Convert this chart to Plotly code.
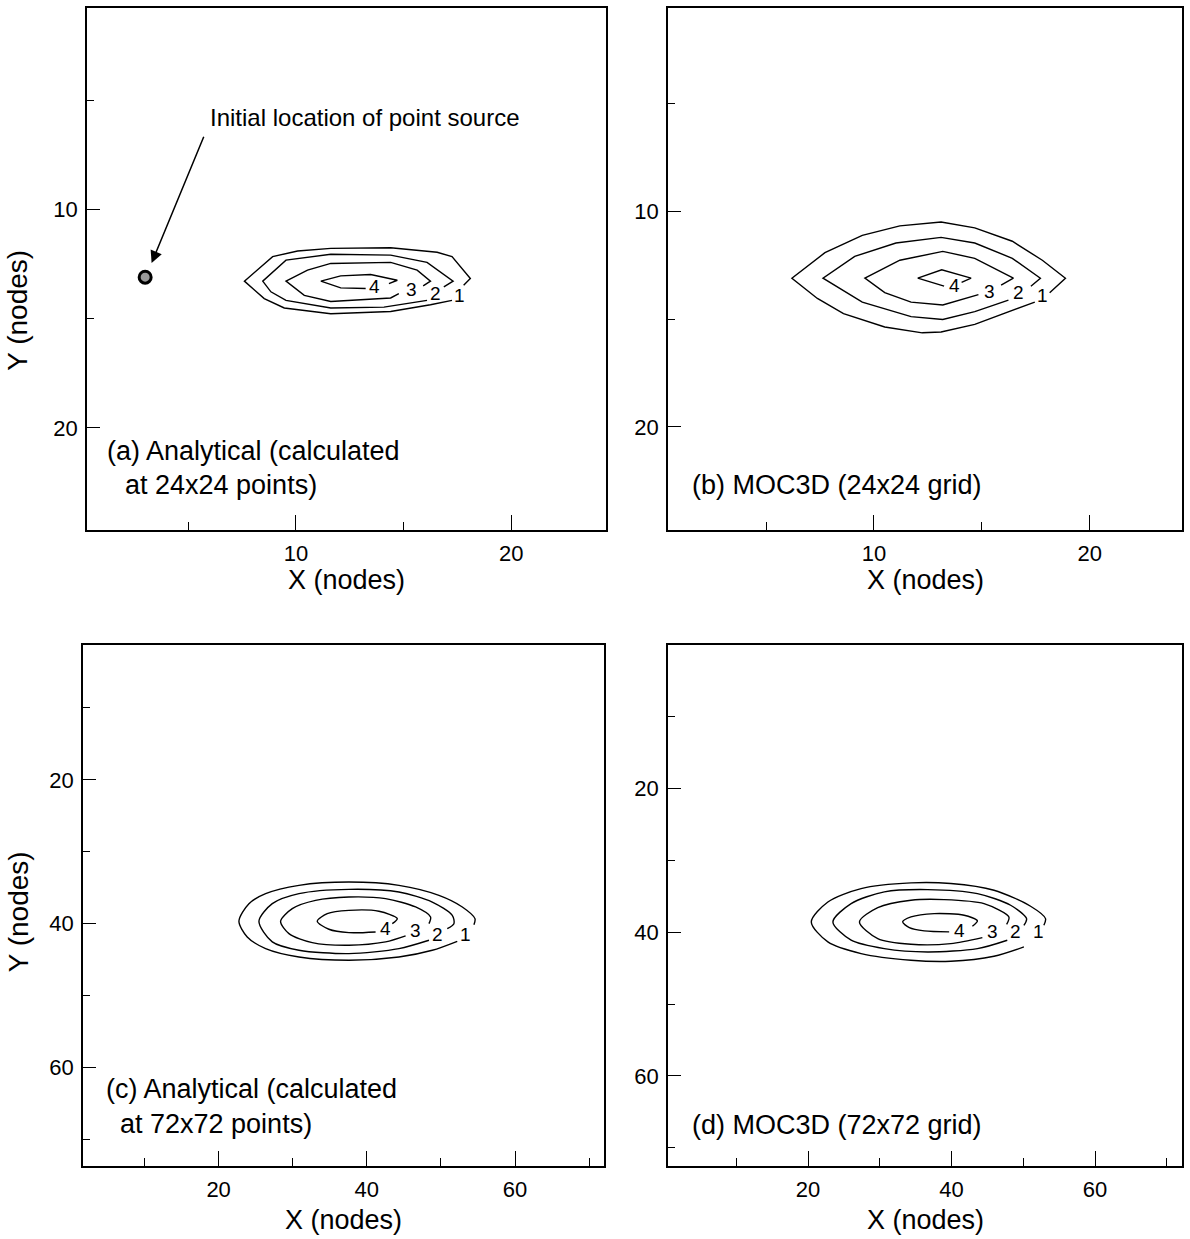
import plotly.graph_objects as go

FONT = "Liberation Sans, Arial, Helvetica, sans-serif"
LEVEL_NAMES = ["1", "2", "3", "4"]

# ---------------- Panel (a): Analytical, 24x24 points ----------------
A_X1 = [17.25, 16.25, 14.40, 11.62, 9.46, 8.53, 7.61, 8.53, 8.92, 10.08, 11.62, 14.40, 16.56, 17.25, 18.10, 17.79]
A_Y1 = [14.16, 14.36, 14.67, 14.77, 14.51, 14.08, 13.28, 12.52, 12.16, 11.90, 11.78, 11.75, 11.96, 12.16, 13.16, 13.47]
A_X2 = [16.09, 14.09, 11.62, 9.54, 8.84, 8.46, 9.54, 11.62, 14.40, 16.09, 17.30, 16.87]
A_Y2 = [14.16, 14.47, 14.51, 14.16, 13.77, 13.28, 12.32, 12.05, 12.09, 12.42, 13.28, 13.54]
A_X3 = [14.78, 14.40, 11.62, 10.39, 9.54, 10.54, 11.62, 14.40, 15.63, 16.25, 15.91]
A_Y3 = [13.85, 14.05, 14.21, 13.93, 13.28, 12.78, 12.47, 12.42, 12.78, 13.28, 13.50]
A_X4 = [13.24, 12.08, 11.16, 12.08, 13.47, 14.71, 14.32]
A_Y4 = [13.62, 13.59, 13.28, 13.04, 12.98, 13.24, 13.39]
A_LABEL_X = [17.62, 16.50, 15.37, 13.66]
A_LABEL_Y = [13.92, 13.85, 13.65, 13.54]
SOURCE_X = [3.0]
SOURCE_Y = [13.1]

# ---------------- Panel (b): MOC3D, 24x24 grid ----------------
B_X1 = [17.45, 16.06, 14.67, 13.11, 12.24, 10.50, 8.59, 7.38, 6.20, 7.73, 9.46, 11.20, 13.11, 14.67, 16.41, 17.80, 18.87, 18.14]
B_Y1 = [14.22, 14.75, 15.25, 15.60, 15.64, 15.37, 14.75, 14.05, 13.11, 11.93, 11.13, 10.69, 10.51, 10.78, 11.40, 12.28, 13.11, 13.78]
B_X2 = [16.23, 14.67, 13.19, 11.72, 9.46, 8.42, 7.64, 9.11, 11.02, 13.11, 14.67, 16.41, 17.71, 17.27]
B_Y2 = [14.13, 14.66, 15.02, 14.89, 14.22, 13.60, 13.11, 12.10, 11.48, 11.22, 11.48, 12.19, 13.11, 13.48]
B_X3 = [14.84, 13.19, 11.72, 10.50, 9.58, 11.20, 13.19, 14.67, 16.46, 15.89]
B_Y3 = [13.87, 14.35, 14.22, 13.78, 13.11, 12.28, 11.87, 12.19, 13.11, 13.43]
B_X4 = [13.25, 12.03, 13.14, 14.50, 14.06]
B_Y4 = [13.48, 13.11, 12.72, 13.11, 13.30]
B_LABEL_X = [17.83, 16.70, 15.36, 13.75]
B_LABEL_Y = [13.90, 13.78, 13.71, 13.43]

# ---------------- Panel (c): Analytical, 72x72 points ----------------
C_X1 = [52.20, 48.83, 44.33, 37.58, 30.84, 26.34, 23.86, 22.74, 24.09, 26.34, 30.84, 37.58, 44.33, 49.73, 52.88, 54.59, 54.45]
C_Y1 = [42.45, 43.70, 44.63, 45.09, 44.63, 43.47, 41.85, 39.67, 37.22, 35.83, 34.67, 34.21, 34.67, 36.06, 37.68, 39.30, 40.14]
C_X2 = [48.38, 44.33, 37.58, 30.84, 27.24, 25.44, 27.24, 30.84, 37.58, 44.33, 48.83, 51.53, 51.75, 50.85]
C_Y2 = [42.31, 43.47, 44.17, 43.70, 42.54, 39.67, 37.22, 35.83, 35.23, 35.60, 36.99, 38.84, 40.00, 40.69]
C_X3 = [45.23, 42.53, 37.58, 32.63, 29.49, 28.36, 29.94, 33.08, 37.58, 42.53, 46.58, 48.60, 48.38]
C_Y3 = [41.71, 42.54, 43.00, 42.64, 41.39, 39.67, 37.91, 36.76, 36.29, 36.52, 37.68, 39.07, 40.00]
C_X4 = [41.18, 37.58, 34.88, 33.31, 34.66, 37.58, 41.63, 44.11, 43.43]
C_Y4 = [41.15, 41.25, 40.78, 39.67, 38.61, 38.15, 38.28, 39.30, 40.00]
C_LABEL_X = [53.33, 49.50, 46.58, 42.53]
C_LABEL_Y = [41.52, 41.52, 40.92, 40.69]

# ---------------- Panel (d): MOC3D, 72x72 grid ----------------
D_X1 = [50.09, 45.92, 39.90, 34.35, 27.40, 22.77, 20.46, 22.77, 27.40, 34.35, 39.90, 45.92, 51.02, 53.10, 52.87]
D_Y1 = [42.04, 43.34, 44.04, 43.90, 42.97, 41.35, 38.56, 35.78, 33.92, 33.13, 33.22, 34.15, 36.38, 38.10, 39.03]
D_X2 = [47.77, 43.61, 36.66, 30.64, 26.01, 23.47, 26.01, 30.64, 36.66, 43.61, 48.24, 50.46, 50.09]
D_Y2 = [41.11, 42.28, 42.74, 42.28, 41.11, 38.56, 36.01, 34.38, 34.06, 34.62, 36.24, 38.10, 39.03]
D_X3 = [44.30, 39.90, 34.35, 29.72, 27.17, 29.72, 34.35, 38.98, 44.53, 48.00, 47.68]
D_Y3 = [40.74, 41.58, 41.67, 40.88, 38.56, 36.57, 35.54, 35.45, 36.01, 37.87, 38.89]
D_X4 = [39.67, 36.20, 34.12, 33.19, 34.35, 37.59, 41.76, 43.61, 42.91]
D_Y4 = [39.95, 39.81, 39.35, 38.56, 37.87, 37.40, 37.63, 38.42, 39.16]
D_LABEL_X = [52.17, 48.93, 45.69, 41.06]
D_LABEL_Y = [39.95, 39.95, 39.95, 39.72]

# Axis tick values
TICKS_24 = [10, 20]
TICKS_72 = [20, 40, 60]

PANEL_TEXT_A = ["(a) Analytical (calculated", "at 24x24 points)"]
PANEL_TEXT_B = ["(b) MOC3D (24x24 grid)"]
PANEL_TEXT_C = ["(c) Analytical (calculated", "at 72x72 points)"]
PANEL_TEXT_D = ["(d) MOC3D (72x72 grid)"]
SOURCE_TEXT = "Initial location of point source"

W, H = 1190, 1239
def px_x(a, b):
    return [a / W, b / W]
def px_y(top, bottom):
    return [1 - bottom / H, 1 - top / H]

fig = go.Figure()

panels = [
    ("x", "y", [(A_X1, A_Y1), (A_X2, A_Y2), (A_X3, A_Y3), (A_X4, A_Y4)], A_LABEL_X, A_LABEL_Y, "linear"),
    ("x2", "y2", [(B_X1, B_Y1), (B_X2, B_Y2), (B_X3, B_Y3), (B_X4, B_Y4)], B_LABEL_X, B_LABEL_Y, "linear"),
    ("x3", "y3", [(C_X1, C_Y1), (C_X2, C_Y2), (C_X3, C_Y3), (C_X4, C_Y4)], C_LABEL_X, C_LABEL_Y, "spline"),
    ("x4", "y4", [(D_X1, D_Y1), (D_X2, D_Y2), (D_X3, D_Y3), (D_X4, D_Y4)], D_LABEL_X, D_LABEL_Y, "spline"),
]

annotations = []
for xa, ya, rings, lx, ly, shape in panels:
    for xs, ys in rings:
        fig.add_trace(go.Scatter(x=xs, y=ys, xaxis=xa, yaxis=ya, mode="lines",
                                 line=dict(color="black", width=1.4, shape=shape, smoothing=0.8),
                                 hoverinfo="skip", showlegend=False))
    for i, name in enumerate(LEVEL_NAMES):
        annotations.append(dict(x=lx[i], y=ly[i], xref=xa, yref=ya, text=name, showarrow=False,
                                font=dict(family=FONT, size=19, color="black")))

# point source marker
fig.add_trace(go.Scatter(x=SOURCE_X, y=SOURCE_Y, xaxis="x", yaxis="y", mode="markers",
                         marker=dict(symbol="circle", size=12, color="#9a9a9a",
                                     line=dict(color="black", width=3)),
                         hoverinfo="skip", showlegend=False))

# arrow + text for source
annotations.append(dict(x=3.3, y=12.45, ax=5.75, ay=6.6, xref="x", yref="y", axref="x", ayref="y",
                        text="", showarrow=True, arrowhead=2, arrowsize=1.6, arrowwidth=1.5,
                        arrowcolor="black"))
annotations.append(dict(x=5.93, y=5.8, xref="x", yref="y", text=SOURCE_TEXT, showarrow=False,
                        xanchor="left", yanchor="middle", font=dict(family=FONT, size=24, color="black")))

# panel descriptions
panel_notes = [
    dict(x=1.14, y=21.06, xref="x", yref="y", text=PANEL_TEXT_A[0]),
    dict(x=1.97, y=22.62, xref="x", yref="y", text=PANEL_TEXT_A[1]),
    dict(x=1.47, y=22.68, xref="x2", yref="y2", text=PANEL_TEXT_B[0]),
    dict(x=4.53, y=63.06, xref="x3", yref="y3", text=PANEL_TEXT_C[0]),
    dict(x=6.42, y=67.90, xref="x3", yref="y3", text=PANEL_TEXT_C[1]),
    dict(x=3.52, y=66.85, xref="x4", yref="y4", text=PANEL_TEXT_D[0]),
]
for a in panel_notes:
    a.update(showarrow=False, xanchor="left", yanchor="middle",
             font=dict(family=FONT, size=27, color="black"))
annotations += panel_notes

# axis titles
for xa, ya, shift in [("x", "y", -33), ("x2", "y2", -33), ("x3", "y3", -37), ("x4", "y4", -37)]:
    annotations.append(dict(x=0.5, y=0, xref=f"{xa} domain", yref=f"{ya} domain", text="X (nodes)",
                            showarrow=False, xanchor="center", yanchor="top", yshift=shift,
                            font=dict(family=FONT, size=27, color="black")))
annotations.append(dict(x=0, y=0.42, xref="x domain", yref="y domain", text="Y (nodes)", textangle=-90,
                        showarrow=False, xanchor="center", yanchor="middle", xshift=-69,
                        font=dict(family=FONT, size=28, color="black")))
annotations.append(dict(x=0, y=0.487, xref="x3 domain", yref="y3 domain", text="Y (nodes)", textangle=-90,
                        showarrow=False, xanchor="center", yanchor="middle", xshift=-65,
                        font=dict(family=FONT, size=28, color="black")))

def xaxis(domain, rng, ticks, minor_dt, anchor):
    return dict(domain=domain, range=rng, anchor=anchor, tickvals=ticks, ticks="inside", ticklen=15,
                tickwidth=1.3, tickcolor="black", showline=True, linecolor="black", linewidth=1.6,
                mirror=True, showgrid=False, zeroline=False, ticklabelstandoff=3,
                tickfont=dict(family=FONT, size=22, color="black"),
                minor=dict(ticks="inside", ticklen=8, tickwidth=1.2, tickcolor="black",
                           dtick=minor_dt, tick0=0, showgrid=False))

def yaxis(domain, rng, ticks, minor_dt, anchor):
    d = xaxis(domain, rng, ticks, minor_dt, anchor)
    d["ticklen"] = 13
    d["minor"]["ticklen"] = 7
    return d

fig.update_layout(
    width=W, height=H, margin=dict(l=0, r=0, t=0, b=0),
    paper_bgcolor="white", plot_bgcolor="white", showlegend=False,
    xaxis=xaxis(px_x(87, 606), [0.3, 24.4], TICKS_24, 5, "y"),
    yaxis=yaxis(px_y(8, 530), [24.67, 0.78], TICKS_24, 5, "x"),
    xaxis2=xaxis(px_x(668, 1182), [0.46, 24.27], TICKS_24, 5, "y2"),
    yaxis2=yaxis(px_y(8, 530), [24.77, 0.6], TICKS_24, 5, "x2"),
    xaxis3=xaxis(px_x(83, 604), [1.7, 72.0], TICKS_72, 10, "y3"),
    yaxis3=yaxis(px_y(645, 1166), [73.7, 1.25], TICKS_72, 10, "x3"),
    xaxis4=xaxis(px_x(668, 1182), [0.49, 72.12], TICKS_72, 10, "y4"),
    yaxis4=yaxis(px_y(645, 1166), [72.55, 0.0], TICKS_72, 10, "x4"),
    annotations=annotations,
)

fig.write_html("out.html", config={"displayModeBar": False},
               post_script="document.body.style.margin='0';document.body.style.overflow='hidden';")
